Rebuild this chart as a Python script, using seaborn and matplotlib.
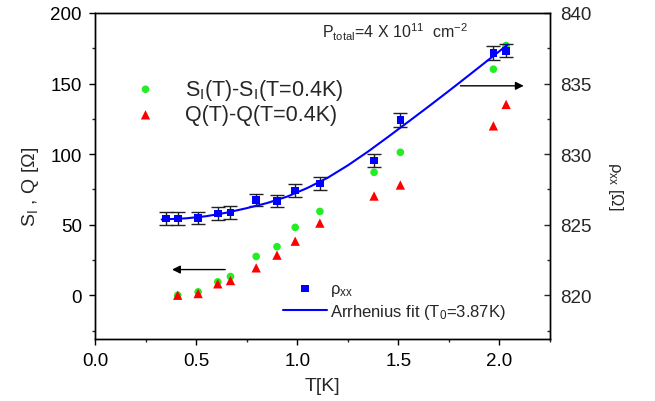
import numpy as np
import pandas as pd
import matplotlib
matplotlib.use('Agg')
import matplotlib.pyplot as plt
import seaborn as sns
from matplotlib.ticker import MultipleLocator

# ---- data ----
T_rho = [0.35, 0.41, 0.508, 0.607, 0.67, 0.797, 0.90, 0.99, 1.112, 1.38, 1.51, 1.97, 2.033]
rho = [825.45, 825.45, 825.47, 825.80, 825.87, 826.74, 826.67, 827.41, 827.93,
       829.56, 832.42, 837.16, 837.32]
rho_err = [0.45, 0.45, 0.45, 0.45, 0.45, 0.45, 0.45, 0.45, 0.45, 0.45, 0.48, 0.5, 0.45]

T_SQ = [0.409, 0.51, 0.607, 0.67, 0.797, 0.90, 0.99, 1.112, 1.38, 1.51, 1.97, 2.033]
S_I = [0.0, 2.4, 9.5, 13.3, 27.5, 34.4, 48.1, 59.4, 87.1, 101.3, 160.2, 177.0]
Q = [0.0, 1.2, 8.1, 10.4, 19.4, 28.4, 38.3, 51.1, 70.3, 78.1, 120.0, 135.2]

T_fit = [0.33, 0.45, 0.55, 0.65, 0.75, 0.85, 0.95, 1.05, 1.15, 1.25, 1.35, 1.45,
         1.55, 1.65, 1.75, 1.85, 1.95, 2.04]
rho_fit = [825.37, 825.45, 825.60, 825.85, 826.17, 826.53, 826.99, 827.60, 828.32,
           829.20, 830.18, 831.23, 832.30, 833.38, 834.48, 835.60, 836.73, 837.75]

x_ticks = [0.0, 0.5, 1.0, 1.5, 2.0]
y_left_ticks = [0, 50, 100, 150, 200]
y_right_ticks = [820, 825, 830, 835, 840]

df_sq = pd.DataFrame({'T': T_SQ, 'S': S_I, 'Q': Q})
df_rho = pd.DataFrame({'T': T_rho, 'rho': rho})
df_fit = pd.DataFrame({'T': T_fit, 'rho': rho_fit})

sns.set_style('ticks')
plt.rcParams['font.family'] = ['Liberation Sans', 'DejaVu Sans']
plt.rcParams['mathtext.fontset'] = 'custom'
plt.rcParams['mathtext.rm'] = 'Liberation Sans'
plt.rcParams['mathtext.it'] = 'Liberation Sans'
plt.rcParams['mathtext.bf'] = 'Liberation Sans:bold'

GREEN = '#22ee22'
RED = '#ff0000'
BLUE = '#0000ff'

fig = plt.figure(figsize=(6.55, 4.02), dpi=100)
ax = fig.add_axes([95/655, 62/402, 455/655, 326/402])
ax2 = ax.twinx()

# left axis data
sns.scatterplot(data=df_sq, x='T', y='S', ax=ax, color=GREEN, marker='o', s=30,
                edgecolor='none', label=r'S$_\mathregular{I}$(T)-S$_\mathregular{I}$(T=0.4K)',
                zorder=3)
sns.scatterplot(data=df_sq, x='T', y='Q', ax=ax, color=RED, marker='^', s=45,
                edgecolor='none', label=r'Q(T)-Q(T=0.4K)', zorder=3)

# right axis data
ax2.errorbar(T_rho, rho, yerr=rho_err, fmt='none', ecolor='#222222', elinewidth=1.0,
             capsize=4.7, capthick=1.0, zorder=2)
sns.lineplot(data=df_fit, x='T', y='rho', ax=ax2, color=BLUE, lw=1.5,
             label=r'Arrhenius fit (T$_\mathregular{0}$=3.87K)', zorder=3, sort=False)
sns.scatterplot(data=df_rho, x='T', y='rho', ax=ax2, color=BLUE, marker='s', s=30,
                edgecolor='none', label=r'ρ$_\mathregular{xx}$', zorder=4)

ax.set_xlim(0, 2.25)
ax.set_ylim(-31, 200)
ax2.set_ylim(816.9, 840)

ax.set_xticks(x_ticks)
ax.set_xticklabels([f'{v:.1f}' for v in x_ticks])
ax.set_yticks(y_left_ticks)
ax2.set_yticks(y_right_ticks)
ax.xaxis.set_minor_locator(MultipleLocator(0.25))
ax.yaxis.set_minor_locator(MultipleLocator(25))
ax2.yaxis.set_minor_locator(MultipleLocator(2.5))

ax.tick_params(axis='both', which='major', direction='out', length=4.5, width=1,
               labelsize=13.5, pad=5, colors='black', top=False)
ax.tick_params(axis='both', which='minor', direction='out', length=2.5, width=1, top=False)
ax2.tick_params(axis='y', which='major', direction='in', length=4, width=1,
                labelsize=13.5, pad=7)
ax2.tick_params(axis='y', which='minor', direction='in', length=2.5, width=1)

for a in (ax, ax2):
    for sp in a.spines.values():
        sp.set_visible(True)
        sp.set_linewidth(1.0)
        sp.set_color('black')

ax.set_xlabel('T[K]', fontsize=14)
ax.xaxis.set_label_coords(0.5, -0.144)
ax.xaxis.label.set_verticalalignment('center')
ax.set_ylabel('S$_\\mathregular{I}$ , Q [Ω]', fontsize=14, va='center')
ax.yaxis.set_label_coords(-0.142, 0.47)
ax2.set_ylabel('')
ax2.text(1.143, 0.472, 'ρ$_\\mathregular{xx}$ [Ω]', transform=ax2.transAxes,
         rotation=270, ha='center', va='center', fontsize=12)

ax.text(1.122, 187.2, 'P$_\\mathregular{total}$=4 X 10$^\\mathregular{11}$  cm$^\\mathregular{-2}$',
        fontsize=11.5, ha='left', va='center')

arrow_kw = dict(arrowstyle='-|>', color='black', lw=1.0, mutation_scale=12,
                shrinkA=0, shrinkB=0)
ax.annotate('', xy=(0.381, 18.2), xytext=(0.644, 18.2), arrowprops=arrow_kw)
ax.annotate('', xy=(2.12, 148.4), xytext=(1.807, 148.4), arrowprops=arrow_kw)

# legends
h1, l1 = ax.get_legend_handles_labels()
leg1 = ax.legend(h1, l1, loc='upper left', bbox_to_anchor=(0.0637, 0.804),
                 frameon=False, fontsize=15.5, handlelength=2.0, handletextpad=0.84,
                 borderpad=0, borderaxespad=0, labelspacing=0.12)
h2, l2 = ax2.get_legend_handles_labels()
order = [1, 0]
leg2 = ax2.legend([h2[i] for i in order], [l2[i] for i in order], loc='lower left',
                  bbox_to_anchor=(0.413, 0.055), frameon=False, fontsize=12,
                  handlelength=2.64, handletextpad=0.18, borderpad=0, borderaxespad=0,
                  labelspacing=0.25)

fig.savefig('out.png', dpi=100)
